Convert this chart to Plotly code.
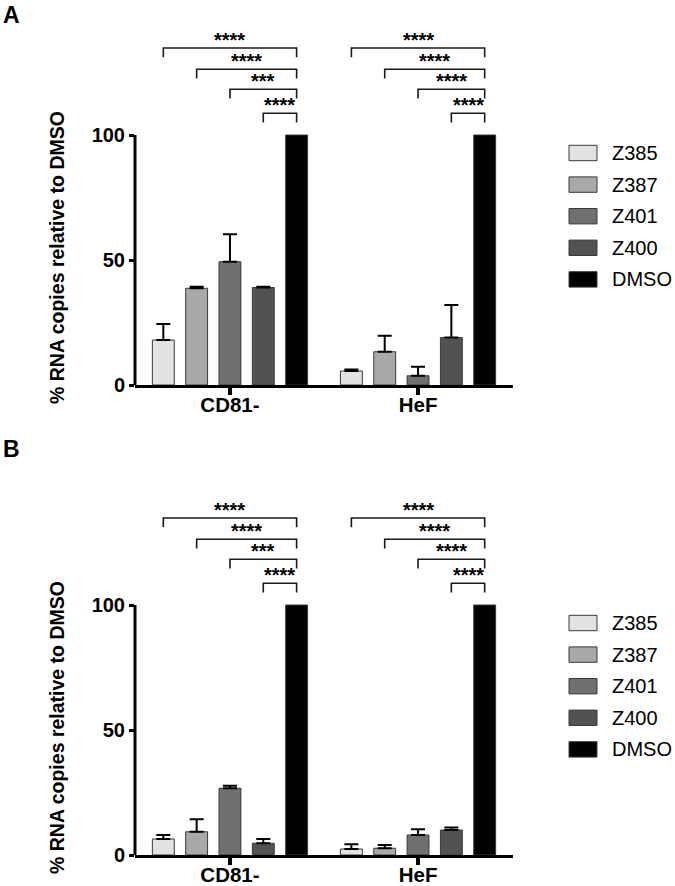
import plotly.graph_objects as go

# ---------------- data ----------------
groups = ["CD81-", "HeF"]
series = ["Z385", "Z387", "Z401", "Z400", "DMSO"]
colors = ["#e2e2e2", "#a9a9a9", "#707070", "#525252", "#000000"]

# Panel A values (per series, [CD81-, HeF]) and upper error
a_z385 = [18.0, 5.6]
a_z387 = [38.7, 13.3]
a_z401 = [49.3, 3.7]
a_z400 = [39.0, 19.0]
a_dmso = [100.0, 100.0]
a_z385_err = [6.4, 0.6]
a_z387_err = [0.6, 6.4]
a_z401_err = [11.0, 3.6]
a_z400_err = [0.3, 13.0]
a_dmso_err = [0.0, 0.0]

# Panel B values
b_z385 = [6.4, 2.4]
b_z387 = [9.3, 2.7]
b_z401 = [26.7, 8.0]
b_z400 = [4.7, 10.0]
b_dmso = [100.0, 100.0]
b_z385_err = [1.6, 1.9]
b_z387_err = [5.0, 1.3]
b_z401_err = [1.0, 2.3]
b_z400_err = [1.7, 1.0]
b_dmso_err = [0.0, 0.0]

y_ticks = [0, 50, 100]
y_title = "% RNA copies relative to DMSO"

# significance vs DMSO (Z385, Z387, Z401, Z400)
sig_cd81 = ["****", "****", "***", "****"]
sig_hef = ["****", "****", "****", "****"]

panel_labels = ["A", "B"]

# ---------------- layout geometry ----------------
W, H = 675, 886
FONT = "Liberation Sans, Arial, sans-serif"
PX_PER_UNIT = 2.5
YMAX = 140
plot_left, plot_right = 135, 513
panel_bottoms = [385, 855]


def px(x):
    return x / W


def py(y):
    return 1 - y / H


bargap = 0.114
bargroupgap = 0.343
slot = (1 - bargap) / len(series)

panels = [
    dict(vals=[a_z385, a_z387, a_z401, a_z400, a_dmso],
         errs=[a_z385_err, a_z387_err, a_z401_err, a_z400_err, a_dmso_err]),
    dict(vals=[b_z385, b_z387, b_z401, b_z400, b_dmso],
         errs=[b_z385_err, b_z387_err, b_z401_err, b_z400_err, b_dmso_err]),
]

fig = go.Figure()
shapes = []
annotations = []

bracket_levels = [134.8, 126.3, 118.3, 108.7]
bracket_drop = 3.7

for p, panel in enumerate(panels):
    xa = "x" if p == 0 else "x2"
    ya = "y" if p == 0 else "y2"
    for s, name in enumerate(series):
        fig.add_trace(go.Bar(
            x=groups, y=panel["vals"][s], name=name,
            xaxis=xa, yaxis=ya, showlegend=False,
            marker=dict(color=colors[s], line=dict(color="#3a3a3a", width=1)),
            error_y=dict(type="data", array=panel["errs"][s],
                         arrayminus=[0] * len(groups), symmetric=False,
                         color="black", thickness=2, width=7,
                         visible=(name != "DMSO")),
        ))
    # y axis line (0..100 only)
    shapes.append(dict(type="line", xref=f"{xa} domain", yref=ya,
                       x0=0, x1=0, y0=0, y1=100,
                       line=dict(color="black", width=3)))
    # significance brackets
    for g, sigs in enumerate([sig_cd81, sig_hef]):
        dmso_x = g + (len(series) - 1 - 2) * slot
        for i, txt in enumerate(sigs):
            bx = g + (i - 2) * slot
            lvl = bracket_levels[i]
            shapes.append(dict(
                type="path", xref=xa, yref=ya,
                path=f"M {bx} {lvl - bracket_drop} L {bx} {lvl} L {dmso_x} {lvl} L {dmso_x} {lvl - bracket_drop}",
                line=dict(color="#1a1a1a", width=1.6)))
            annotations.append(dict(
                xref=xa, yref=ya, x=(bx + dmso_x) / 2, y=lvl,
                text=txt, showarrow=False, yanchor="bottom", yshift=-5,
                font=dict(family=FONT, size=20, color="black", weight="bold")))
    # y-axis title
    y0 = panel_bottoms[p]
    annotations.append(dict(
        xref="paper", yref="paper", x=px(57), y=py(y0 - 127),
        text=f"<b>{y_title}</b>", textangle=-90, showarrow=False,
        xanchor="center", yanchor="middle",
        font=dict(family=FONT, size=19.5, color="black")))
    # legend (drawn manually)
    for s, name in enumerate(series):
        cy = y0 - 232 + s * 31.6
        shapes.append(dict(type="rect", xref="paper", yref="paper",
                           x0=px(569), x1=px(597),
                           y0=py(cy - 7.7), y1=py(cy + 7.7),
                           fillcolor=colors[s], line=dict(color="#3a3a3a", width=1)))
        annotations.append(dict(
            xref="paper", yref="paper", x=px(610), y=py(cy),
            text=name, showarrow=False, xanchor="left", yanchor="middle",
            font=dict(family=FONT, size=20, color="black")))

# panel letters
for lab, ytop in zip(panel_labels, [0, 434]):
    annotations.append(dict(xref="paper", yref="paper", x=px(1), y=py(ytop),
                            text=f"<b>{lab}</b>", showarrow=False,
                            xanchor="left", yanchor="top",
                            font=dict(family=FONT, size=23, color="black")))

xaxis_common = dict(
    domain=[px(plot_left), px(plot_right)], range=[-0.505, 1.505],
    showline=True, linewidth=3, linecolor="black", showgrid=False, zeroline=False,
    ticks="outside", ticklen=7, tickwidth=3.5, tickcolor="black",
    ticklabelstandoff=-8,
    tickfont=dict(family=FONT, size=20.5, color="black", weight="bold"),
    automargin=False, fixedrange=True,
)
yaxis_common = dict(
    range=[0, YMAX], tickvals=y_ticks, ticktext=[str(t) for t in y_ticks],
    showline=False, showgrid=False, zeroline=False,
    ticks="outside", ticklen=5, tickwidth=3, tickcolor="black",
    tickfont=dict(family=FONT, size=20, color="black", weight="bold"),
    automargin=False, fixedrange=True,
)


def ydomain(y0):
    return [py(y0), py(y0 - YMAX * PX_PER_UNIT)]


fig.update_layout(
    width=W, height=H,
    margin=dict(l=0, r=0, t=0, b=0),
    paper_bgcolor="white", plot_bgcolor="white",
    barmode="group", bargap=bargap, bargroupgap=bargroupgap,
    xaxis=dict(**xaxis_common, anchor="y"),
    yaxis=dict(**yaxis_common, anchor="x", domain=ydomain(panel_bottoms[0])),
    xaxis2=dict(**xaxis_common, anchor="y2"),
    yaxis2=dict(**yaxis_common, anchor="x2", domain=ydomain(panel_bottoms[1])),
    shapes=shapes, annotations=annotations,
    font=dict(family=FONT, color="black"),
    hovermode=False,
)

# remove the default 8px page margin so the figure sits at the window origin
fig.write_html("out.html",
               config={"displayModeBar": False, "staticPlot": True},
               post_script="document.body.style.margin='0';document.body.style.overflow='hidden';")
